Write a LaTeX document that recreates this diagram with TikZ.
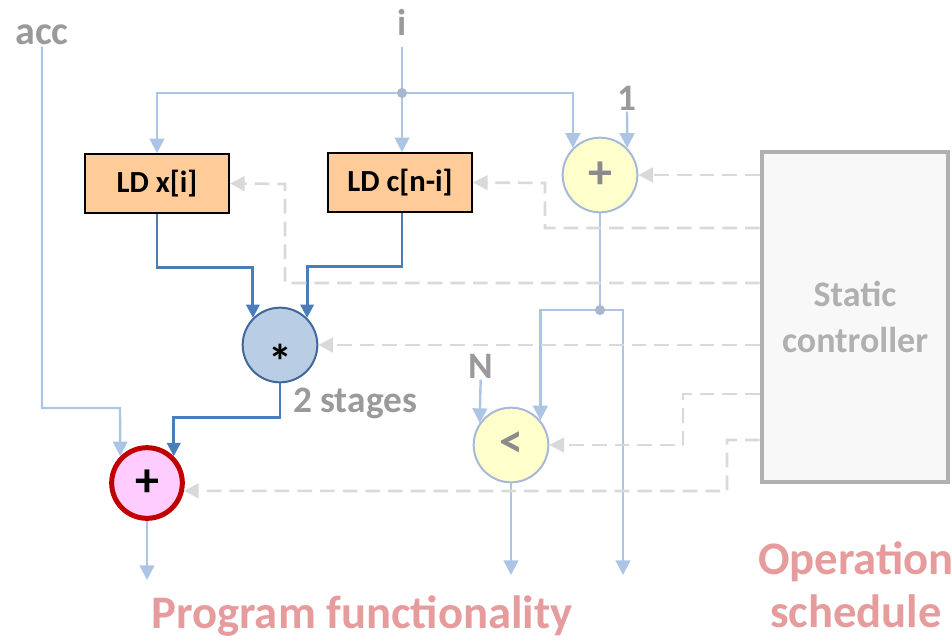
\documentclass[tikz,border=0pt]{standalone}
\usepackage{fontspec}
\setmainfont{Carlito}
\usepackage{xcolor}
\usepackage{tikz}
\usetikzlibrary{positioning,arrows.meta}
\definecolor{peach}{HTML}{FFCC99}
\definecolor{wireblue}{HTML}{ADC5E4}
\definecolor{datablue}{HTML}{4A7EBB}
\definecolor{mulfill}{HTML}{B9CDE5}
\definecolor{mulline}{HTML}{41689A}
\definecolor{cmpfill}{HTML}{FFFFCC}
\definecolor{cmpline}{HTML}{A6B9DA}
\definecolor{accfill}{HTML}{FFCCFF}
\definecolor{accline}{HTML}{C00000}
\definecolor{ctlgrey}{HTML}{D9D9D9}
\definecolor{labgrey}{HTML}{9A9A9A}
\definecolor{boxgrey}{HTML}{B0B0B0}
\definecolor{boxfill}{HTML}{F8F8F8}
\definecolor{rose}{HTML}{E69C9C}
\definecolor{jngrey}{HTML}{A8B6CE}
\tikzset{
  ldbox/.style={rectangle, draw=black, fill=peach, line width=1.5pt,
                minimum width=108pt, minimum height=44pt, inner sep=0pt,
                font=\fontsize{23}{27}\selectfont\bfseries},
  opc/.style={circle, minimum size=56pt, inner sep=0pt,
              font=\fontsize{36}{38}\selectfont\bfseries},
  ctrlbox/.style={rectangle, draw=boxgrey, fill=boxfill, line width=3pt,
                  minimum width=140pt, minimum height=247pt, align=center,
                  text=boxgrey, font=\fontsize{27}{34}\selectfont\bfseries},
  wire/.style={line width=1.8pt, draw=wireblue},
  sig/.style={wire, -{Triangle[length=11pt,width=11pt]}},
  dat/.style={-{Triangle[length=10pt,width=10pt]}, line width=2.1pt, draw=datablue},
  ctl/.style={-{Triangle[length=11pt,width=11pt]}, line width=2pt, draw=ctlgrey,
              dash pattern=on 11pt off 6pt},
  lbl/.style={text=labgrey, font=\fontsize{28}{30}\selectfont\bfseries, inner sep=1pt},
  ttl/.style={text=rose, align=center, font=\fontsize{35}{40}\selectfont\bfseries},
  jn/.style={fill=jngrey},
}
\begin{document}
\begin{tikzpicture}[x=0.75pt, y=-0.75pt]
  \useasboundingbox (0,0) rectangle (952,640);

  % labels and inputs
  \node[lbl, font=\fontsize{30}{32}\selectfont\bfseries] (acc) at (42,35) {acc};
  \node[lbl] (i) at (402,22) {i};
  \node[lbl] (one) at (627,98) {1};
  \node[lbl] (n) at (481,366) {N};

  % operations
  \node[ldbox] (ldx) at (157,183.5) {LD x[i]};
  \node[ldbox] (ldc) at (400,182.5) {LD c[n-i]};
  \node[opc, draw=cmpline, fill=cmpfill, line width=1.5pt, text=labgrey!90!black] (inc) at (600,175) {+};
  \node[opc, draw=mulline, fill=mulfill, line width=1.5pt] (mul) at (280,345) {\raisebox{-25pt}[0pt][0pt]{*}};
  \node[opc, draw=accline, fill=accfill, line width=3.75pt, minimum size=53pt] (add) at (147,483) {+};
  \node[opc, draw=cmpline, fill=cmpfill, line width=1.5pt, text=labgrey!90!black] (lt) at (511,445) {<};
  \node[lbl] (stg) at (355,403) {2 stages};

  \node[ctrlbox] (ctrl) at (855,317) {Static\\controller};

  \node[ttl] (prog) at (362,616) {Program functionality};
  \node[ttl] (sched) at (856,585) {Operation\\schedule};

  \coordinate (ji) at (402,93);
  \coordinate (jc) at (600,310);
  \coordinate (accbend) at (120,408);
  \coordinate (outacc) at (147,580);
  \coordinate (outlt) at (511,575);
  \coordinate (outi) at (623,575);

  % program data path
  \draw[wire, shorten <=8pt] (i) -- (ji);
  \draw[sig] (ji) -| (ldx.north);
  \draw[sig] (ji) -- (ji |- ldc.north);
  \draw[sig] (ji) -| (inc.135);
  \draw[sig] (one) -- (inc.45);
  \draw[dat] (ldx.south) -- ++(0,54) -| (mul.135);
  \draw[dat] (ji |- ldc.south) -- ++(0,54) -| (mul.45);
  \draw[dat] (mul.south) -- ++(0,34) -| (add.45);
  \draw[sig] (acc) |- (accbend) -- (add.135);
  \draw[sig] (add) -- (outacc);
  \draw[wire] (inc) -- (jc);
  \draw[sig] (jc) -| (lt.40);
  \draw[sig] (jc) -| (outi);
  \draw[sig] (n) -- (lt.145);
  \draw[sig] (lt) -- (outlt);
  \fill[jn] (ji) circle (3.8pt);
  \fill[jn] (jc) circle (3.8pt);

  % schedule signals
  \draw[ctl] (ctrl.west |- inc) -- (inc);
  \draw[ctl] (ctrl.west |- 0,228) -| (545,183) -- (ldc.east);
  \draw[ctl] (ctrl.west |- 0,283) -| (285,184) -- (ldx.east);
  \draw[ctl] (ctrl.west |- mul) -- (mul);
  \draw[ctl] (ctrl.west |- 0,394) -| (683,445) -- (lt);
  \draw[ctl] (ctrl.west |- 0,440) -| (727,491) -- (add.-12);
\end{tikzpicture}
\end{document}
